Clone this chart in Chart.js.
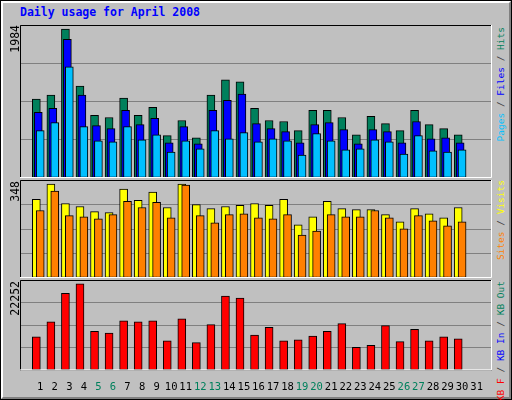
<!DOCTYPE html>
<html><head><meta charset="utf-8">
<script src="https://cdn.jsdelivr.net/npm/chart.js@4"></script>
<style>
body{margin:0;width:512px;height:400px;background:#c0c0c0;position:relative;overflow:hidden;font-family:"DejaVu Sans Mono",monospace}
#frame{position:absolute;left:0;top:0;width:510px;height:398px;border:1px solid #000;box-sizing:content-box}
#bevel{position:absolute;left:1px;top:1px;width:506px;height:394px;border:2px solid;border-color:#fff #808080 #808080 #fff}
.c{position:absolute}
.rot{position:absolute;transform-origin:0 0;transform:rotate(-90deg);text-align:right;font-size:11.5px;line-height:12px;white-space:nowrap}
.leg{font-size:9.5px;line-height:11px;color:#404040}
#title{position:absolute;left:20px;top:5px;font-size:11.5px;font-weight:bold;color:#0000ff}
</style></head><body>
<div id="frame"></div><div id="bevel"></div>
<div id="title">Daily usage for April 2008</div>
<div class="c" style="left:20px;top:25px;width:472px;height:153px"><canvas id="c1"></canvas></div>
<div class="c" style="left:20px;top:180px;width:472px;height:98px"><canvas id="c2"></canvas></div>
<div class="c" style="left:20px;top:280px;width:472px;height:117px"><canvas id="c3"></canvas></div>
<div class="rot" style="left:9px;top:177px;width:152px">1984</div>
<div class="rot" style="left:9px;top:277px;width:96px">348</div>
<div class="rot" style="left:9px;top:377px;width:96px">22252</div>
<div class="rot leg" style="left:495px;top:227px;width:200px"><span style="color:#00c0ff">Pages</span> / <span style="color:#0000ff">Files</span> / <span style="color:#00805c">Hits</span></div>
<div class="rot leg" style="left:495px;top:380px;width:200px"><span style="color:#ff8000">Sites</span> / <span style="color:#ffff00">Visits</span></div>
<div class="rot leg" style="left:495px;top:481px;width:200px"><span style="color:#ff0000">KB F</span> / <span style="color:#0000ff">KB In</span> / <span style="color:#00805c">KB Out</span></div>
<script>
const days = [1,2,3,4,5,6,7,8,9,10,11,12,13,14,15,16,17,18,19,20,21,22,23,24,25,26,27,28,29,30];
const dayLabels = [1,2,3,4,5,6,7,8,9,10,11,12,13,14,15,16,17,18,19,20,21,22,23,24,25,26,27,28,29,30,31];
const weekendDays = [5,6,12,13,19,20,26,27];
const hits = [1051,1105,1984,1226,834,807,1064,834,942,564,767,537,1105,1308,1281,929,767,753,631,902,902,807,577,821,726,631,902,712,658,577];
const files = [875,929,1849,1105,699,658,902,712,794,469,685,455,902,1037,1118,726,658,618,469,712,739,645,455,645,618,469,753,523,537,469];
const pages = [631,739,1483,685,496,482,685,510,577,347,496,388,631,523,604,482,523,496,307,591,496,374,388,510,482,320,564,361,347,374];
const visits = [291,348,276,265,246,242,329,288,318,261,348,272,257,265,269,276,269,291,197,227,284,257,253,253,235,208,257,238,223,261];
const sites = [250,322,231,227,219,235,284,261,280,223,344,231,204,235,238,223,219,235,159,174,235,227,227,250,223,182,231,212,193,208];
const kbytes = [8609,12507,19817,22252,10071,9584,12751,12507,12751,7634,13239,7147,11777,19086,18599,9097,11046,7634,7878,8853,10071,12021,5929,6416,11533,7391,10559,7634,8609,8122];

const span = 31.4;
function xAxis(min, show) {
  return {type:'linear', min:min, max:min+span, display:show,
    grid:{display:false}, border:{display:false},
    afterBuildTicks: s => { s.ticks = dayLabels.map(v => ({value:v})); },
    ticks:{autoSkip:false, maxRotation:0, padding:3, font:{family:'DejaVu Sans Mono', size:10.5},
      color: c => weekendDays.includes(dayLabels[c.index]) ? '#00805c' : '#000',
      callback: v => v}};
}
function yAxis(max) {
  return {min:0, max:max, ticks:{display:false, stepSize:max/4},
    grid:{color:'#808080', drawTicks:false, lineWidth:1}, border:{display:false}};
}
function ds(data, color, axis, order) {
  return {data: days.map((d,i) => ({x:d, y:data[i]})), backgroundColor:color, order:order,
    borderColor:'#000', borderWidth:1, borderSkipped:false, barThickness:8, xAxisID:axis, grouped:false};
}
const framePlugin = {id:'frame', afterDraw(ch) {
  const a = ch.chartArea, g = ch.ctx;
  g.save(); g.lineWidth = 1;
  g.strokeStyle = '#000';
  g.beginPath(); g.moveTo(a.left+0.5, a.bottom); g.lineTo(a.left+0.5, a.top+0.5); g.lineTo(a.right, a.top+0.5); g.stroke();
  g.strokeStyle = '#fff';
  g.beginPath(); g.moveTo(a.right-0.5, a.top); g.lineTo(a.right-0.5, a.bottom-0.5); g.lineTo(a.left, a.bottom-0.5); g.stroke();
  g.restore();
}};
const u = 1/15;
function make(id, datasets, scales) {
  new Chart(document.getElementById(id), {type:'bar', data:{datasets}, plugins:[framePlugin],
    options:{responsive:true, maintainAspectRatio:false, animation:false,
      layout:{padding:0}, plugins:{legend:{display:false}, tooltip:{enabled:false}}, scales}});
}
make('c1', [ds(hits,'#00805c','xh',3), ds(files,'#0000ff','xf',2), ds(pages,'#00c0ff','xp',1)],
  {xh:xAxis(0.4,false), xf:xAxis(0.4-2*u,false), xp:xAxis(0.4-4*u,false), y:yAxis(2040)});
make('c2', [ds(visits,'#ffff00','xv',2), ds(sites,'#ff8000','xs',1)],
  {xv:xAxis(0.4,false), xs:xAxis(0.4-4*u,false), y:yAxis(363)});
make('c3', [ds(kbytes,'#ff0000','xk',1)],
  {xk:xAxis(0.4,false), xl:Object.assign(xAxis(0.4-4*u,true),{position:'bottom'}), y:yAxis(23250)});
</script>
</body></html>
